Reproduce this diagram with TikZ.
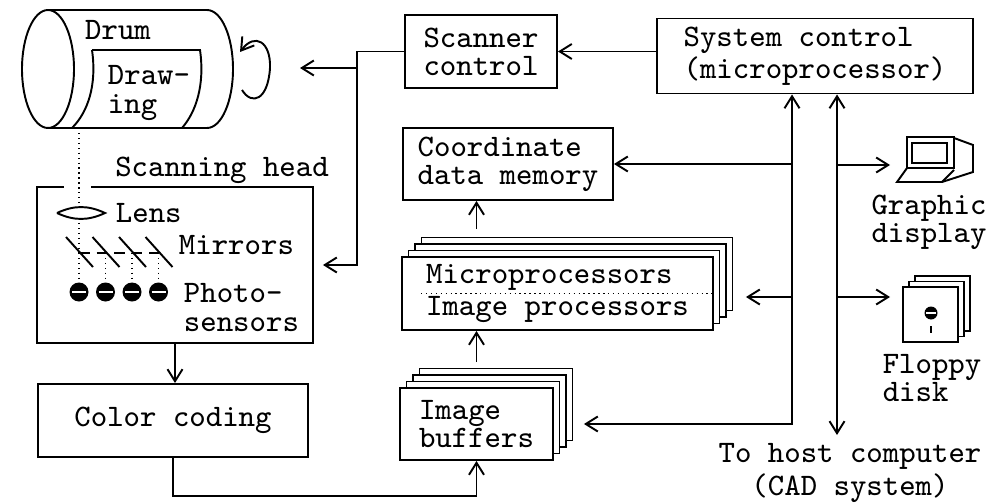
\documentclass[tikz,border=0pt]{standalone}
\usepackage{tikz}
\usetikzlibrary{arrows.meta, shadows, calc, positioning}

\begin{document}
\begin{tikzpicture}[x=0.1mm, y=-0.1mm, line width=0.55pt,
        >={Straight Barb[length=1.2mm,width=1.5mm]},
        every node/.style={font=\ttfamily\fontsize{8.9}{8}\selectfont, inner sep=0pt, align=center},
        box/.style={draw, fill=white, align=left},
        stack/.style={copy shadow={shadow xshift=1.95mm, shadow yshift=1.95mm},
                      copy shadow={shadow xshift=1.3mm, shadow yshift=1.3mm},
                      copy shadow={shadow xshift=0.65mm, shadow yshift=0.65mm}}]
                        \useasboundingbox (0,0) rectangle (1002,502);

                        % drum with the drawing wrapped round it
                        \draw (48,69) ellipse[x radius=26, y radius=59];
                        \draw (48,10) -- (207,10) arc[start angle=-90, end angle=90, x radius=26, y radius=59] -- (48,128);
                        \draw (92,50) .. controls (97,85) and (88,112) .. (72,128);
                        \draw (92,50) -- (200,50) .. controls (205,85) and (196,112) .. (182,128);
                        \draw[->] (242,90) .. controls (252,106) and (268,100) .. (270,68) .. controls (271,42) and (255,32) .. (240,52);

                        \node (drum) at (118, 30) {Drum};
                        \node[anchor=west, align=left] (drw) at (107, 93) {Draw-\\ing};
                        \node (shl) at (222, 170) {Scanning head};

                        \node[box] (sc) at (481, 51.5) [minimum width=15.2mm, minimum height=7.3mm] {Scanner\\control};
                        \node[box] (sys) at (815, 56) [minimum width=31.6mm, minimum height=7.5mm] {System control\\(microprocessor)};
                        \node[box] (cdm) at (508, 164) [minimum width=21mm, minimum height=7.2mm] {Coordinate\\data memory};
                        \node[box, stack] (mp) at (557.5, 293.5) [minimum width=31.1mm, minimum height=7.3mm] {Microprocessors\\[0.4mm]Image processors};
                        \node[box, stack] (ib) at (476.5, 424) [minimum width=15.3mm, minimum height=7.2mm] {Image\\buffers};
                        \node[box] (cc) at (173, 420.5) [minimum width=27mm, minimum height=7.3mm] {Color coding};
                        \node (head) at (175, 265) [minimum width=27.4mm, minimum height=15.4mm] {};

                        \draw[densely dotted, line width=0.4pt] ([xshift=2mm]mp.west) -- (mp.east);

                        % scanning head: lens, mirrors and photosensors
                        \draw ([xshift=5.4mm]head.north west) -- (head.north east) -- (head.south east)
                            -- (head.south west) -- (head.north west) -- ([xshift=2.7mm]head.north west);
                        \draw[densely dotted, line width=0.4pt] (79,133) -- (79,208) (79,218) -- (79,253);
                        \draw (57,213) to[bend left=25] (105,213) to[bend left=25] (57,213);
                        \draw[densely dashed, line width=0.4pt] (79,253) -- (159,253);
                        \foreach \x in {79,105.5,132,158.5} {
                            \draw[densely dotted, line width=0.4pt] (\x,253) -- (\x,283);
                            \draw (\x-13,237) -- (\x+14,267);
                            \fill (\x,292) circle[radius=0.95mm];
                            \draw[white, line width=0.3pt] (\x-7,292) -- (\x+7,292);
                        }
                        \node[anchor=west] (lens) at (115, 213) {Lens};
                        \node[anchor=west] (mir) at (178, 245) {Mirrors};
                        \node[anchor=west, align=left] (ps) at (183, 307.5) {Photo-\\sensors};

                        % graphic display and floppy disk
                        \draw (907,137) rectangle (954,168) (912,143) rectangle (947,163);
                        \draw (954,138) -- (973,145) -- (973,172) -- (942,182);
                        \draw (907,168) -- (897,182) -- (942,182) -- (954,170);
                        \node (disp) at (929, 222) {Graphic\\display};
                        \node[draw, fill=white, minimum size=5.5mm,
                              copy shadow={shadow xshift=1.2mm, shadow yshift=1.1mm},
                              copy shadow={shadow xshift=0.6mm, shadow yshift=0.55mm}] (fd) at (930.5, 314.5) {};
                        \fill (931,313) circle[radius=0.65mm];
                        \draw[white, line width=0.3pt] (926,313) -- (936,313);
                        \draw (931,326) -- (931,333);
                        \node[align=left] (fdl) at (932, 378) {Floppy\\disk};
                        \node (host) at (850, 473) {To host computer\\(CAD system)};

                        \coordinate (drumin) at (300, 68);
                        \coordinate (fork) at (357, 68);
                        \coordinate (lbus) at (792, 0);
                        \coordinate (rbus) at (837, 0);
                        \coordinate (dispin) at (890, 165);
                        \coordinate (fdin) at (890, 297);
                        \coordinate (hostout) at (837, 435);

                        \draw[->] (sys.west |- sc.east) -- (sc.east);
                        \draw[->, shorten >=1mm] (sc.west) -| (fork) |- (head.east);
                        \draw[->] (fork) -- (drumin);
                        \draw[->] (head.south) -- (head.south |- cc.north);
                        \draw[->] (cc.south) -- ++(0,38) -| (ib.south);
                        \draw[->] ($(ib.north)+(0,-25)$) -- (ib.north |- mp.south);
                        \draw[->] ($(mp.north -| ib.north)+(0,-27)$) -- (ib.north |- cdm.south);

                        \draw[<->, shorten >=3mm] (sys.south -| lbus) |- (ib.east);
                        \draw[->] (lbus |- cdm.east) -- (cdm.east);
                        \draw[->] (lbus |- fdin) -- ($(mp.east)+(32,3.5)$);
                        \draw[<->] (sys.south -| rbus) -- (hostout);
                        \draw[->] (rbus |- dispin) -- (dispin);
                        \draw[->] (rbus |- fdin) -- (fdin);
                    \end{tikzpicture}
\end{document}
